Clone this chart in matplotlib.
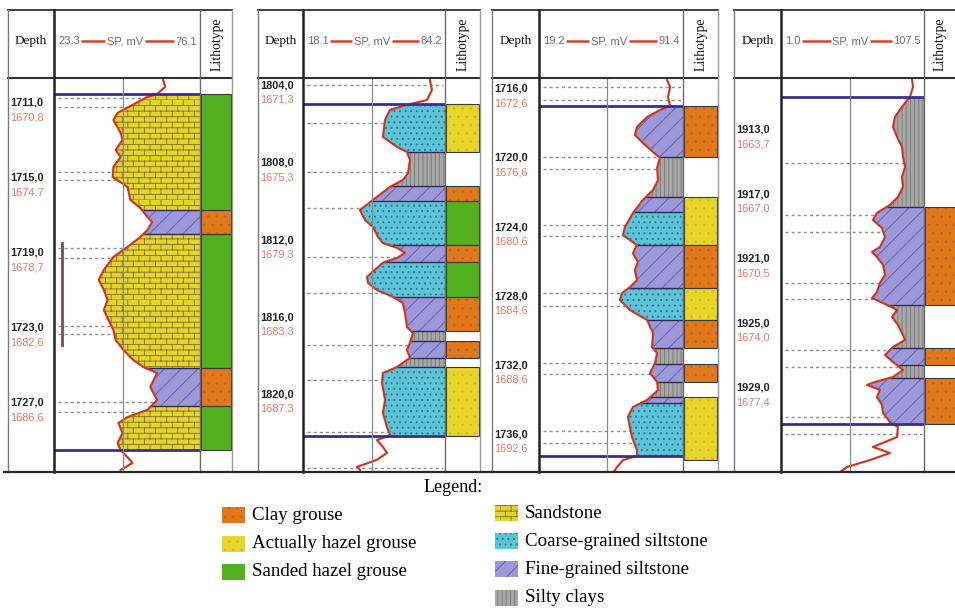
import warnings
warnings.filterwarnings("ignore")
import numpy as np
import matplotlib
matplotlib.use("Agg")
import matplotlib.pyplot as plt
import matplotlib.hatch as mhatch
import matplotlib.transforms as mtrans
from matplotlib.path import Path
from matplotlib.patches import Rectangle

# ------------------------------------------------------------------ DATA
# SP scale of every panel (mV) and the header strings
sp_ranges = [(23.3, 76.1), (18.1, 84.2), (19.2, 91.4), (1.0, 107.5)]
sp_left_text = ["23.3", "18.1", "19.2", "1.0"]
sp_right_text = ["76,1", "84.2", "91.4", "107.5"]

# depth labels (measured depth / absolute depth)
p1_ticks = [1711, 1715, 1719, 1723, 1727]
p1_abs = ["1670,8", "1674,7", "1678,7", "1682,6", "1686,6"]
p2_ticks = [1804, 1808, 1812, 1816, 1820]
p2_abs = ["1671,3", "1675,3", "1679,3", "1683,3", "1687,3"]
p3_ticks = [1716, 1720, 1724, 1728, 1732, 1736]
p3_abs = ["1672,6", "1676,6", "1680,6", "1684,6", "1688,6", "1692,6"]
p4_ticks = [1913, 1917, 1921, 1925, 1929]
p4_abs = ["1663,7", "1667,0", "1670,5", "1674,0", "1677,4"]

# visible depth window of every panel (bottom, top)
p1_window = (1730.68, 1709.67)
p2_window = (1824.01, 1803.60)
p3_window = (1738.18, 1715.37)
p4_window = (1934.21, 1909.78)

# SP curves: depth (m) and SP (mV)
p1_depth = [1709.77, 1710.15, 1710.52, 1710.68, 1711.53, 1711.91, 1712.60, 1712.97, 1713.51, 1713.88,
            1714.41, 1714.95, 1715.48, 1716.17, 1716.60, 1717.08, 1717.35, 1717.77, 1718.15, 1718.68,
            1719.21, 1719.91, 1720.44, 1720.97, 1721.51, 1722.04, 1722.57, 1723.11, 1723.64, 1724.17,
            1724.71, 1725.08, 1725.40, 1726.15, 1726.84, 1727.37, 1727.75, 1728.07, 1728.60, 1729.13,
            1729.51, 1729.89, 1730.20, 1730.57]
p1_sp = [62.8, 63.5, 60.6, 57.1, 46.3, 44.8, 47.4, 48.1, 45.6, 47.4,
         44.8, 44.5, 49.9, 50.9, 54.5, 57.1, 58.8, 57.1, 54.5, 49.9,
         44.8, 41.3, 39.5, 41.3, 42.7, 41.3, 43.0, 44.8, 45.6, 48.4,
         52.0, 55.6, 60.6, 58.1, 60.6, 57.1, 49.9, 46.6, 48.1, 46.3,
         47.4, 49.9, 51.7, 47.4]

p2_depth = [1803.70, 1804.22, 1804.74, 1804.99, 1805.25, 1805.77, 1806.65, 1807.17, 1807.43, 1807.84,
            1808.52, 1808.88, 1809.24, 1809.76, 1810.44, 1810.96, 1811.32, 1811.83, 1812.15, 1812.40,
            1812.66, 1812.92, 1813.17, 1813.90, 1814.22, 1814.58, 1814.94, 1815.25, 1815.77, 1816.50,
            1816.81, 1817.33, 1817.69, 1818.10, 1818.57, 1818.88, 1819.40, 1820.28, 1820.95, 1821.68,
            1822.09, 1822.25, 1822.35, 1822.71, 1823.02, 1823.38, 1823.75, 1823.90]
p2_sp = [77.2, 78.1, 75.8, 66.5, 58.6, 56.3, 55.3, 61.9, 66.5, 67.9,
         67.0, 64.6, 58.6, 52.5, 44.6, 47.0, 50.7, 53.0, 55.3, 61.9,
         65.6, 61.9, 55.3, 47.9, 48.4, 52.5, 60.0, 64.6, 65.6, 66.5,
         69.3, 67.9, 66.5, 67.9, 61.9, 55.3, 54.9, 56.3, 55.3, 57.2,
         58.6, 55.3, 52.5, 55.3, 57.2, 52.5, 43.2, 44.6]

p3_depth = [1715.48, 1715.89, 1716.47, 1716.99, 1717.22, 1717.63, 1718.21, 1718.67, 1719.13, 1719.66,
            1720.00, 1720.58, 1721.28, 1721.86, 1722.43, 1723.19, 1724.00, 1724.46, 1724.75, 1725.04,
            1725.51, 1726.03, 1726.49, 1727.07, 1727.48, 1727.82, 1728.23, 1728.80, 1729.38, 1730.14,
            1730.95, 1731.30, 1731.87, 1732.45, 1732.97, 1733.44, 1734.01, 1734.42, 1734.99, 1735.57,
            1736.15, 1736.90, 1737.25, 1737.49, 1737.90, 1738.25]
p3_sp = [83.4, 84.9, 83.9, 84.9, 79.9, 73.4, 68.3, 67.3, 71.3, 76.4,
         79.9, 78.4, 78.9, 76.4, 71.3, 66.3, 62.3, 61.3, 64.8, 68.3,
         66.3, 68.8, 67.3, 68.3, 64.8, 60.8, 59.8, 64.8, 73.4, 76.4,
         75.9, 78.4, 77.4, 74.9, 78.4, 78.9, 73.4, 66.3, 63.8, 64.8,
         65.8, 68.3, 68.3, 61.3, 58.3, 56.3]

p4_depth = [1909.90, 1910.33, 1910.95, 1911.57, 1912.19, 1912.81, 1913.43, 1914.05, 1914.67, 1915.29,
            1915.91, 1916.53, 1917.16, 1917.65, 1918.15, 1918.58, 1919.08, 1919.64, 1920.26, 1920.57,
            1920.88, 1921.37, 1921.99, 1922.49, 1923.05, 1923.42, 1923.73, 1924.16, 1924.60, 1925.09,
            1925.59, 1926.02, 1926.46, 1926.95, 1927.39, 1927.88, 1928.32, 1928.63, 1928.81, 1929.12,
            1929.56, 1930.05, 1930.55, 1931.11, 1931.42, 1932.04, 1932.66, 1933.03, 1933.47, 1933.90,
            1934.21]
p4_sp = [98.6, 99.3, 97.1, 91.1, 85.9, 84.4, 87.4, 91.1, 91.9, 93.4,
         91.1, 91.9, 88.1, 82.2, 72.5, 69.5, 76.2, 78.5, 74.7, 68.8,
         72.5, 77.0, 78.5, 74.7, 72.5, 68.8, 77.0, 87.4, 83.7, 88.1,
         91.1, 93.4, 84.4, 78.5, 84.4, 91.9, 84.4, 71.0, 65.1, 74.7,
         72.5, 76.2, 77.0, 82.2, 88.1, 87.4, 69.5, 82.2, 67.3, 50.2,
         45.0]

# rock layers: boundaries (m) and rock codes
# SS sandstone, CS coarse-grained siltstone, FS fine-grained siltstone, SC silty clays
p1_layer_bounds = [1710.52, 1716.71, 1717.99, 1725.13, 1727.16, 1729.51]
p1_rocks = ["SS", "FS", "SS", "FS", "SS"]
p2_layer_bounds = [1804.94, 1807.43, 1809.19, 1809.97, 1812.25, 1813.13, 1814.94, 1816.71,
                   1817.22, 1818.10, 1818.57, 1822.15]
p2_rocks = ["CS", "SC", "FS", "CS", "FS", "CS", "FS", "SC", "FS", "SC", "CS"]
p3_layer_bounds = [1716.99, 1719.94, 1722.26, 1723.13, 1725.04, 1727.53, 1729.38, 1731.00,
                   1731.93, 1732.97, 1733.84, 1734.19, 1737.26]
p3_rocks = ["FS", "SC", "FS", "CS", "FS", "CS", "FS", "SC", "FS", "SC", "FS", "CS"]
p4_layer_bounds = [1910.95, 1917.78, 1923.85, 1926.52, 1927.57, 1928.38, 1931.23]
p4_rocks = ["SC", "FS", "SC", "FS", "SC", "FS"]

# lithotypes: boundaries (m) and codes (CG clay grouse, AH actually hazel, SH sanded hazel, None blank)
p1_litho_bounds = [1710.52, 1716.71, 1717.99, 1725.13, 1727.16, 1729.51]
p1_litho = ["SH", "CG", "SH", "CG", "SH"]
p2_litho_bounds = [1804.94, 1807.43, 1809.19, 1809.97, 1812.25, 1813.13, 1814.94, 1816.71,
                   1817.22, 1818.10, 1818.57, 1822.15]
p2_litho = ["AH", None, "CG", "SH", "CG", "SH", "CG", None, "CG", None, "AH"]
p3_litho_bounds = [1716.99, 1719.94, 1722.26, 1725.04, 1727.53, 1729.38, 1731.00, 1731.93,
                   1732.97, 1733.84, 1737.49]
p3_litho = ["CG", None, "AH", "CG", "AH", "CG", None, "CG", None, "AH"]
p4_litho_bounds = [1910.95, 1917.78, 1923.85, 1926.52, 1927.57, 1928.38, 1931.23]
p4_litho = [None, "CG", None, "CG", None, "CG"]

# dashed depth grid lines
p1_grid = [1710.73, 1711.21, 1714.68, 1715.11, 1718.73, 1719.27, 1722.89, 1723.32, 1726.95, 1727.48]
p2_grid = [1803.96, 1805.93, 1808.47, 1810.35, 1812.88, 1814.75, 1817.43, 1819.25, 1821.94, 1823.81]
p3_grid = [1715.89, 1716.64, 1719.94, 1720.64, 1723.88, 1724.52, 1727.82, 1728.57, 1731.87,
           1732.51, 1735.81, 1736.51]
p4_grid = [1915.05, 1918.27, 1919.33, 1922.49, 1923.48, 1926.64, 1927.70, 1930.80, 1931.85]

# perforation interval shown in panel 1
p1_perf = (1718.47, 1723.91)

rock_names = {"SS": "Sandstone", "CS": "Coarse-grained siltstone",
              "FS": "Fine-grained siltstone", "SC": "Silty clays"}
litho_names = {"CG": "Clay grouse", "AH": "Actually hazel grouse", "SH": "Sanded hazel grouse"}
legend_left = ["CG", "AH", "SH"]
legend_right = ["SS", "CS", "FS", "SC"]

# ------------------------------------------------------------------ STYLE
class BrickHatch(mhatch.HatchPatternBase):
    """Staggered brick hatch used for sandstone (hatch character 'B')."""
    def __init__(self, hatch, density):
        n = hatch.count('B') * density
        self.num_rows = 2 * (n // 2)
        self.num_cols = max(self.num_rows // 2, 1)
        self.num_vertices = (2 * self.num_rows + 2 * self.num_rows * self.num_cols) if self.num_rows else 0

    def set_vertices_and_codes(self, vertices, codes):
        n, m = self.num_rows, self.num_cols
        k = 0
        for i in range(n):
            vertices[k] = (0.0, i / n)
            vertices[k + 1] = (1.0, i / n)
            codes[k] = Path.MOVETO
            codes[k + 1] = Path.LINETO
            k += 2
        for i in range(n):
            off = 0.5 * (i % 2)
            for j in range(m):
                x = (j + off) / m
                vertices[k] = (x, i / n)
                vertices[k + 1] = (x, (i + 1) / n)
                codes[k] = Path.MOVETO
                codes[k + 1] = Path.LINETO
                k += 2


mhatch._hatch_types.append(BrickHatch)
plt.rcParams['hatch.linewidth'] = 0.7

rock_style = {
    "SS": dict(fc="#e4d42e", hatch="BBB", hc="#8a7b1c"),
    "CS": dict(fc="#5cc4d6", hatch="...", hc="#2a7594"),
    "FS": dict(fc="#9d98d8", hatch="//", hc="#6660b2"),
    "SC": dict(fc="#a8a8a8", hatch="||||", hc="#7c7c7c"),
}
litho_style = {
    "CG": dict(fc="#e0781c", hatch="..", hc="#cc6410"),
    "AH": dict(fc="#e8d52a", hatch="..", hc="#d2be18"),
    "SH": dict(fc="#53b01f", hatch=None, hc="#53b01f"),
}

W, H = 955, 608
HDR_TOP, DATA_TOP, DATA_BOT = 10, 78, 472
panel_x = [(8, 54, 123, 200, 232), (258, 303, 372, 445, 480),
           (492, 539, 607, 683, 718), (734, 781, 850, 924, 958)]
SERIF = ["Liberation Serif", "DejaVu Serif"]
SANS = ["Liberation Sans", "DejaVu Sans"]
RED = "#d9402a"
NAVY = "#3a2f8c"

fig = plt.figure(figsize=(W / 100, H / 100), dpi=100)
fig.patch.set_facecolor("white")


def px_axes(x0, x1, y0, y1, **kw):
    ax = fig.add_axes([x0 / W, 1 - y1 / H, (x1 - x0) / W, (y1 - y0) / H], **kw)
    ax.set_axis_off()
    ax.patch.set_alpha(0)
    return ax


panels = [
    dict(depth=p1_depth, sp=p1_sp, ticks=p1_ticks, abs=p1_abs, window=p1_window,
         lb=p1_layer_bounds, rocks=p1_rocks, tb=p1_litho_bounds, litho=p1_litho, grid=p1_grid,
         perf=p1_perf),
    dict(depth=p2_depth, sp=p2_sp, ticks=p2_ticks, abs=p2_abs, window=p2_window,
         lb=p2_layer_bounds, rocks=p2_rocks, tb=p2_litho_bounds, litho=p2_litho, grid=p2_grid,
         perf=None),
    dict(depth=p3_depth, sp=p3_sp, ticks=p3_ticks, abs=p3_abs, window=p3_window,
         lb=p3_layer_bounds, rocks=p3_rocks, tb=p3_litho_bounds, litho=p3_litho, grid=p3_grid,
         perf=None),
    dict(depth=p4_depth, sp=p4_sp, ticks=p4_ticks, abs=p4_abs, window=p4_window,
         lb=p4_layer_bounds, rocks=p4_rocks, tb=p4_litho_bounds, litho=p4_litho, grid=p4_grid,
         perf=None),
]

for i, P in enumerate(panels):
    left, div, mid, lit, right = panel_x[i]
    spmin, spmax = sp_ranges[i]
    d = np.asarray(P["depth"], float)
    s = np.asarray(P["sp"], float)

    # ---- depth column
    axd = px_axes(left, div, DATA_TOP, DATA_BOT)
    axd.set_xlim(0, 1)
    axd.set_ylim(*P["window"])
    bd = mtrans.blended_transform_factory(axd.transAxes, axd.transData)
    for t, a in zip(P["ticks"], P["abs"]):
        axd.annotate(f"{t:.1f}".replace(".", ","), xy=(0, t), xycoords=bd, xytext=(1.6, 0),
                     textcoords="offset points", ha="left", va="center", fontsize=7.9,
                     fontweight="bold", family=SANS, color="#222222", annotation_clip=False)
        axd.annotate(a, xy=(0, t), xycoords=bd, xytext=(1.6, -10.2),
                     textcoords="offset points", ha="left", va="center", fontsize=7.9,
                     family=SANS, color="#e27a68", annotation_clip=False)

    # ---- SP column
    ax = px_axes(div, lit, DATA_TOP, DATA_BOT)
    ax.set_xlim(spmin, spmax)
    ax.set_ylim(*P["window"])
    bt = mtrans.blended_transform_factory(ax.transAxes, ax.transData)
    for g in P["grid"]:
        ax.plot([0.03, 0.985], [g, g], transform=bt, color="#8f8f8f", lw=1.0,
                dashes=(2.2, 2.2), zorder=1)
    lb = P["lb"]
    for top, bot, rock in zip(lb[:-1], lb[1:], P["rocks"]):
        m = (d > top) & (d < bot)
        dd = np.concatenate([[top], d[m], [bot]])
        ss = np.concatenate([[np.interp(top, d, s)], s[m], [np.interp(bot, d, s)]])
        st = rock_style[rock]
        ax.fill_betweenx(dd, ss, spmax, facecolor=st["fc"], hatch=st["hatch"],
                         edgecolor=st["hc"], linewidth=0, zorder=2)
    for b in lb[1:-1]:
        ax.plot([np.interp(b, d, s), spmax], [b, b], color="#2c2c55", lw=1.0, zorder=3)
    ax.plot(s, d, color=RED, lw=1.6, zorder=4, solid_joinstyle="round")
    ax.plot(s, d, color="#8a2a1a", lw=0.4, zorder=4, alpha=0.6)
    for b in (lb[0], lb[-1]):
        ax.plot([0, 1], [b, b], transform=bt, color=NAVY, lw=2.0, zorder=5,
                solid_capstyle="butt")
    if P["perf"] is not None:
        ax.plot([0.055, 0.055], list(P["perf"]), transform=bt, color="#7d4a58", lw=2.0, zorder=5)

    # ---- lithotype column
    axl = px_axes(lit, right, DATA_TOP, DATA_BOT)
    axl.set_xlim(0, 1)
    axl.set_ylim(*P["window"])
    tb = P["tb"]
    for top, bot, code in zip(tb[:-1], tb[1:], P["litho"]):
        if code is None:
            continue
        st = litho_style[code]
        axl.barh((top + bot) / 2, 0.92, height=bot - top, left=0.04, color=st["fc"],
                 hatch=st["hatch"], edgecolor=st["hc"], linewidth=0, zorder=2)
        axl.barh((top + bot) / 2, 0.92, height=bot - top, left=0.04, facecolor="none",
                 edgecolor="#3a3a3a", linewidth=0.8, zorder=3)

# ------------------------------------------------------------------ frame, headers, legend
ax0 = fig.add_axes([0, 0, 1, 1], zorder=20)
ax0.set_xlim(0, W)
ax0.set_ylim(H, 0)
ax0.set_axis_off()
ax0.patch.set_alpha(0)

hdr_texts = []
for i in range(4):
    left, div, mid, lit, right = panel_x[i]
    ax0.plot([left, right], [HDR_TOP, HDR_TOP], color="#303030", lw=1.3)
    ax0.plot([left, right], [DATA_TOP, DATA_TOP], color="#303030", lw=1.5)
    ax0.plot([left, left], [HDR_TOP, DATA_BOT], color="#7a7a7a", lw=1.0)
    ax0.plot([div, div], [HDR_TOP, DATA_BOT], color="#222222", lw=1.8)
    ax0.plot([mid, mid], [DATA_TOP, DATA_BOT], color="#8a8a8a", lw=0.9, zorder=-1)
    ax0.plot([lit, lit], [HDR_TOP, DATA_BOT], color="#6a6a6a", lw=1.0)
    ax0.plot([right, right], [HDR_TOP, DATA_BOT], color="#9a9a9a", lw=1.0)
    ax0.text((left + div) / 2, 41, "Depth", ha="center", va="center", family=SERIF,
             fontsize=9.5, color="#111111")
    ax0.text((lit + min(right, 955)) / 2 + 1, 44, "Lithotype", ha="center", va="center",
             rotation=90, family=SERIF, fontsize=9.8, color="#111111")
    tl = ax0.text(div + 4, 41, sp_left_text[i], ha="left", va="center", family=SANS,
                  fontsize=8, color="#6e6e6e")
    tc = ax0.text((div + lit) / 2 - 2, 41, "SP, mV", ha="center", va="center", family=SANS,
                  fontsize=8, color="#6e6e6e")
    tr = ax0.text(lit - 3, 41, sp_right_text[i], ha="right", va="center", family=SANS,
                  fontsize=8, color="#6e6e6e")
    hdr_texts.append((tl, tc, tr))

ax0.plot([4, 955], [DATA_BOT, DATA_BOT], color="#262626", lw=1.6)

# legend
ax0.text(453, 488, "Legend:", ha="center", va="center", family=SERIF, fontsize=13)
for k, code in enumerate(legend_left):
    y = 515 + 28.5 * k
    st = litho_style[code]
    ax0.add_patch(Rectangle((222, y - 8), 23, 16, facecolor=st["fc"], hatch=st["hatch"],
                            edgecolor=st["hc"], linewidth=0))
    ax0.text(252, y, litho_names[code], ha="left", va="center", family=SERIF, fontsize=13.6)
for k, code in enumerate(legend_right):
    y = 513 + 28.2 * k
    st = rock_style[code]
    ax0.add_patch(Rectangle((495, y - 8), 23, 16, facecolor=st["fc"], hatch=st["hatch"],
                            edgecolor=st["hc"], linewidth=0))
    ax0.text(525, y, rock_names[code], ha="left", va="center", family=SERIF, fontsize=13.6)

# red dashes in the SP headers, placed between the header texts
fig.canvas.draw()
r = fig.canvas.get_renderer()
inv = ax0.transData.inverted()
for tl, tc, tr in hdr_texts:
    bl = tl.get_window_extent(r)
    bc = tc.get_window_extent(r)
    br = tr.get_window_extent(r)
    xl1 = inv.transform((bl.x1, 0))[0]
    xc0 = inv.transform((bc.x0, 0))[0]
    xc1 = inv.transform((bc.x1, 0))[0]
    xr0 = inv.transform((br.x0, 0))[0]
    ax0.plot([xl1 + 1.5, xc0 - 1.5], [41, 41], color=RED, lw=1.8, solid_capstyle="butt")
    ax0.plot([xc1 + 1.5, xr0 - 1.5], [41, 41], color=RED, lw=1.8, solid_capstyle="butt")

fig.savefig("out.png", dpi=100, facecolor="white")
